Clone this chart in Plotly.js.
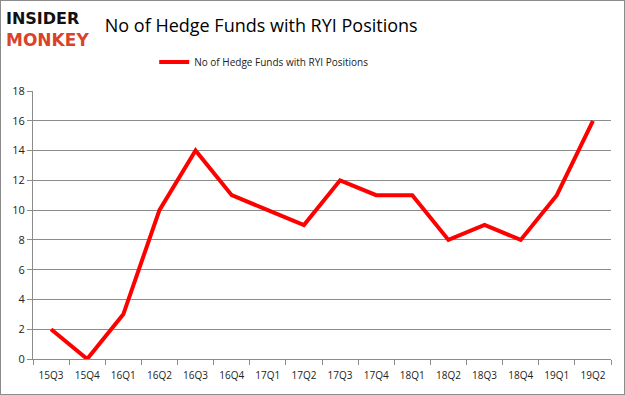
<!DOCTYPE html>
<html>
<head>
<meta charset="utf-8">
<script src="https://cdn.plot.ly/plotly-3.0.1.min.js"></script>
<style>
html,body{margin:0;padding:0;background:#fff;}
#wrap{position:relative;width:625px;height:395px;}
#chart{width:625px;height:395px;}
#border{position:absolute;left:0;top:0;width:623px;height:393px;border:1px solid #8c8c8c;pointer-events:none;}
</style>
</head>
<body>
<div id="wrap"><div id="chart"></div><div id="border"></div></div>
<script>
var quarters = ["15Q3","15Q4","16Q1","16Q2","16Q3","16Q4","17Q1","17Q2","17Q3","17Q4","18Q1","18Q2","18Q3","18Q4","19Q1","19Q2"];
var hedgeFunds = [2,0,3,10,14,11,10,9,12,11,11,8,9,8,11,16];
var seriesName = "No of Hedge Funds with RYI Positions";
var yTicks = [0,2,4,6,8,10,12,14,16,18];

var trace = {
  x: quarters, y: hedgeFunds, type: "scatter", mode: "lines",
  name: seriesName,
  line: {color: "#ff0000", width: 4}
};
var layout = {
  width: 625, height: 395,
  margin: {l: 33, r: 14, t: 91, b: 36},
  paper_bgcolor: "#fff", plot_bgcolor: "#fff",
  font: {family: "Open Sans, Liberation Sans, sans-serif", color: "#222", size: 11},
  title: {text: "No of Hedge Funds with RYI Positions", x: 0.418, xanchor: "center", y: 0.935, yanchor: "middle",
          font: {size: 18, color: "#000", family: "Open Sans, Liberation Sans, sans-serif"}},
  showlegend: true,
  legend: {orientation: "h", x: 0.4, xanchor: "center", y: 1.108, yanchor: "middle",
           font: {size: 10, color: "#222"}, bgcolor: "rgba(0,0,0,0)"},
  xaxis: {type: "category", range: [-0.5, 15.5], showgrid: false, showline: true, linecolor: "#8c8c8c",
          ticks: "outside", tickson: "boundaries", ticklen: 5, tickcolor: "#8c8c8c", fixedrange: true,
          ticklabelstandoff: 7, tickangle: 0, tickfont: {size: 10, color: "#222"}},
  yaxis: {range: [0, 18], tickvals: yTicks, showgrid: true, gridcolor: "#8c8c8c", gridwidth: 1,
          zeroline: false, showline: true, linecolor: "#8c8c8c", ticks: "outside", ticklen: 5,
          tickcolor: "#8c8c8c", tickfont: {size: 11, color: "#222"}, fixedrange: true},
  annotations: [
    {text: "<b>INSIDER</b>", xref: "paper", yref: "paper", x: -0.05, y: 1.272, xanchor: "left", yanchor: "middle",
     showarrow: false, font: {size: 16, color: "#111", family: "DejaVu Sans, sans-serif"}},
    {text: "<b>MONKEY</b>", xref: "paper", yref: "paper", x: -0.05, y: 1.19, xanchor: "left", yanchor: "middle",
     showarrow: false, font: {size: 17, color: "#d8432a", family: "DejaVu Sans, sans-serif"}}
  ]
};
Plotly.newPlot("chart", [trace], layout, {displayModeBar: false, staticPlot: true});
</script>
</body>
</html>
